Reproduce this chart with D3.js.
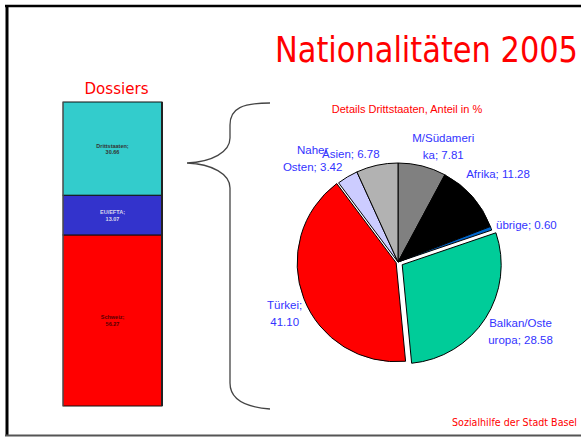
<!DOCTYPE html>
<html>
<head>
<meta charset="utf-8">
<script src="https://cdn.jsdelivr.net/npm/d3@7"></script>
<style>
  html, body { margin: 0; padding: 0; background: #fff; }
  svg { display: block; }
</style>
</head>
<body>
<div id="chart"></div>
<script>
// Nationalitäten 2005 — stacked dossier bar + pie of Drittstaaten details

const barCategories = ["Schweiz", "EU/EFTA", "Drittstaaten"];
const barValues = [56.27, 13.07, 30.66];
const barColors = ["#ff0000", "#3333cc", "#33cccc"];
const barTextColors = ["#550000", "#d8d8ee", "#333333"];

const pieCategories = ["M/Südamerika", "Afrika", "übrige", "Balkan/Osteuropa", "Türkei", "Naher Osten", "Asien"];
const pieValues = [7.81, 11.28, 0.60, 28.58, 41.10, 3.42, 6.78];
const pieColors = ["#808080", "#000000", "#0066cc", "#00cc99", "#ff0000", "#ccccff", "#b2b2b2"];

const width = 581;
const height = 437;

const svg = d3.select("#chart").append("svg")
  .attr("width", width)
  .attr("height", height);

// slide frame
svg.append("line").attr("x1", 5).attr("x2", width).attr("y1", 6).attr("y2", 6)
  .attr("stroke", "#000").attr("stroke-width", 2.5);
svg.append("line").attr("x1", 7).attr("x2", 7).attr("y1", 5).attr("y2", 436)
  .attr("stroke", "#000").attr("stroke-width", 3);
svg.append("line").attr("x1", 5).attr("x2", width).attr("y1", 435.5).attr("y2", 435.5)
  .attr("stroke", "#555").attr("stroke-width", 2);

svg.append("text")
  .attr("x", 578).attr("y", 62)
  .attr("text-anchor", "end")
  .attr("font-family", "DejaVu Sans, sans-serif")
  .attr("font-size", 36)
  .attr("textLength", 303)
  .attr("lengthAdjust", "spacingAndGlyphs")
  .attr("fill", "#ff0000")
  .text("Nationalitäten 2005");

svg.append("text")
  .attr("x", 577).attr("y", 426)
  .attr("text-anchor", "end")
  .attr("font-family", "DejaVu Sans, sans-serif")
  .attr("font-size", 11)
  .attr("textLength", 125)
  .attr("lengthAdjust", "spacingAndGlyphs")
  .attr("fill", "#ff0000")
  .text("Sozialhilfe der Stadt Basel");

// ---- stacked bar ----
const barLeft = 63, barWidth = 99;
const yBar = d3.scaleLinear().domain([0, 100]).range([406, 102]);
const cum = d3.cumsum(barValues);
const barData = barCategories.map((c, i) => ({
  name: c, value: barValues[i], y0: cum[i] - barValues[i], y1: cum[i], i
}));

svg.append("text")
  .attr("x", barLeft + barWidth / 2 + 4).attr("y", 94)
  .attr("text-anchor", "middle")
  .attr("font-family", "DejaVu Sans, sans-serif")
  .attr("font-size", 16)
  .attr("textLength", 64)
  .attr("lengthAdjust", "spacingAndGlyphs")
  .attr("fill", "#ff0000")
  .text("Dossiers");

const bar = svg.append("g");
bar.selectAll("rect").data(barData).join("rect")
  .attr("x", barLeft)
  .attr("width", barWidth)
  .attr("y", d => yBar(d.y1))
  .attr("height", d => yBar(d.y0) - yBar(d.y1))
  .attr("fill", d => barColors[d.i])
  .attr("stroke", "#111")
  .attr("stroke-width", 1);

bar.append("line")
  .attr("x1", barLeft + barWidth).attr("x2", barLeft + barWidth)
  .attr("y1", yBar(100)).attr("y2", yBar(0))
  .attr("stroke", "#222").attr("stroke-width", 2);
bar.append("line")
  .attr("x1", barLeft).attr("x2", barLeft)
  .attr("y1", yBar(100)).attr("y2", yBar(0))
  .attr("stroke", "#666").attr("stroke-width", 1);

const barText = bar.selectAll("text.blabel").data(barData).join("text")
  .attr("class", "blabel")
  .attr("text-anchor", "middle")
  .attr("font-family", "Liberation Sans, Arial, sans-serif")
  .attr("font-size", 5.5)
  .attr("font-weight", "bold")
  .attr("fill", d => barTextColors[d.i]);
barText.append("tspan")
  .attr("x", barLeft + barWidth / 2)
  .attr("y", d => (yBar(d.y0) + yBar(d.y1)) / 2 - 1)
  .text(d => d.name + ";");
barText.append("tspan")
  .attr("x", barLeft + barWidth / 2)
  .attr("dy", 6.5)
  .text(d => d.value.toFixed(2));

// ---- brace ----
svg.append("path")
  .attr("d", "M270,103 C243,103 230,108 230,125 L230,138 C230,152 212,162 187,163 " +
             "C212,164 230,174 230,188 L230,383 C230,398 243,407 270,409")
  .attr("fill", "none")
  .attr("stroke", "#444")
  .attr("stroke-width", 1.3);

// ---- pie ----
const cx = 398, cy = 262, r = 99;

svg.append("text")
  .attr("x", 407).attr("y", 113)
  .attr("text-anchor", "middle")
  .attr("font-family", "Liberation Sans, Arial, sans-serif")
  .attr("font-size", 11)
  .attr("fill", "#ff0000")
  .text("Details Drittstaaten, Anteil in %");

const pie = d3.pie().sort(null).value(d => d.value);
const arc = d3.arc().innerRadius(0).outerRadius(r);
const pieData = pie(pieCategories.map((c, i) => ({ name: c, value: pieValues[i], i })));

const explode = { "Balkan/Osteuropa": 5, "Türkei": 2 };

const pieG = svg.append("g").attr("transform", `translate(${cx},${cy})`);
pieG.selectAll("path").data(pieData).join("path")
  .attr("d", arc)
  .attr("transform", d => {
    const off = explode[d.data.name] || 0;
    const a = (d.startAngle + d.endAngle) / 2;
    return `translate(${off * Math.sin(a)},${-off * Math.cos(a)})`;
  })
  .attr("fill", d => pieColors[d.data.i])
  .attr("stroke", "#000")
  .attr("stroke-width", 1)
  .attr("stroke-linejoin", "round");

// label placement: along mid-angle, then small nudges like the original layout
const labelRadius = 128;
const labelLayout = {
  "M/Südamerika": { dx: 14, dy: 8, breakAt: 10 },
  "Afrika": { dx: 4, dy: -4 },
  "übrige": { dx: 8, dy: 6 },
  "Balkan/Osteuropa": { dx: 15, dy: 0, breakAt: 11 },
  "Türkei": { dx: 6, dy: 5, breakAt: 8 },
  "Naher Osten": { dx: -20, dy: 6, breakAt: 6 },
  "Asien": { dx: -20, dy: 17 }
};
const lineH = 17;

pieData.forEach(d => {
  const a = (d.startAngle + d.endAngle) / 2;
  const lay = labelLayout[d.data.name] || { dx: 0, dy: 0 };
  const x = cx + labelRadius * Math.sin(a) + lay.dx;
  const y = cy - labelRadius * Math.cos(a) + lay.dy;
  const full = d.data.name + "; " + d.data.value.toFixed(2);
  const lines = lay.breakAt ? [full.slice(0, lay.breakAt).trim(), full.slice(lay.breakAt).trim()] : [full];
  const t = svg.append("text")
    .attr("text-anchor", "middle")
    .attr("font-family", "Liberation Sans, Arial, sans-serif")
    .attr("font-size", 11.5)
    .attr("fill", "#3333ff");
  lines.forEach((ln, k) => {
    t.append("tspan")
      .attr("x", x)
      .attr("y", y + (k - (lines.length - 1) / 2) * lineH + 4.5)
      .text(ln);
  });
});
</script>
</body>
</html>
